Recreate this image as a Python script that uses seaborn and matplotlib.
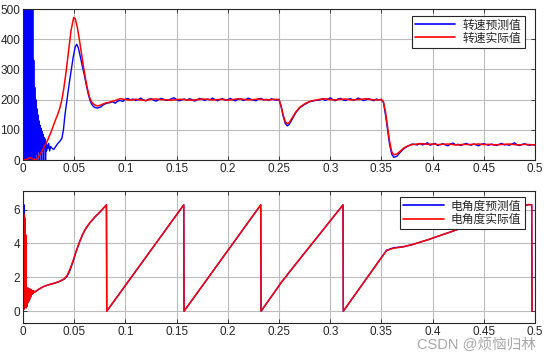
import numpy as np
import pandas as pd
import seaborn as sns
import matplotlib.pyplot as plt

# ---- speed (top panel) ----
# predicted speed, early oscillation: values every 0.0005 s from 0 to 0.024
spd_pred_osc = [0, 600, 0, 600, 20, 600, 0, 600, 0, 600, 10, 600, 0, 600, 0, 600, 0, 580, 0,
                520, 0, 330, 10, 240, 0, 200, 20, 170, 0, 150, 30, 130, 0, 115, 20, 105, 0,
                95, 30, 85, 0, 75, 40, 70, 0, 55, 30, 50, 40]
t_pred_rise = [0.0245, 0.025, 0.026, 0.027, 0.028, 0.030, 0.032, 0.034, 0.036, 0.038, 0.0395,
               0.041, 0.043, 0.045, 0.047, 0.049, 0.051, 0.0525, 0.054, 0.056, 0.058, 0.060,
               0.062, 0.064, 0.066, 0.068, 0.070, 0.073, 0.076, 0.079, 0.082]
spd_pred_rise = [40, 55, 30, 45, 40, 35, 45, 55, 62, 72, 100, 150, 200, 250, 295, 340, 375, 383,
                 372, 342, 310, 280, 245, 215, 192, 180, 174, 172, 176, 184, 188]
# 0.085 .. 0.25
spd_pred_flat1 = [190, 193, 188, 195, 197, 194, 201, 204, 199, 202, 197, 200, 205, 199, 196, 201,
                  203, 198, 195, 200, 204, 201, 197, 199, 203, 206, 200, 196, 199, 202, 198, 203,
                  200, 195, 199, 204, 201, 197, 202, 199, 205, 200, 196, 201, 203, 198, 200, 204,
                  199, 196, 201, 203, 197, 200, 205, 201, 198, 196, 202, 204, 199, 201, 197, 203,
                  200, 198, 201]
t_pred_dip = [0.252, 0.254, 0.256, 0.258, 0.260, 0.263, 0.266, 0.270, 0.275, 0.280, 0.285]
spd_pred_dip = [178, 146, 122, 113, 118, 136, 155, 172, 184, 193, 197]
# 0.29 .. 0.35
spd_pred_flat2 = [199, 203, 197, 201, 206, 200, 196, 202, 204, 199, 197, 201, 203, 198, 200, 205,
                  201, 197, 199, 203, 200, 196, 202, 199, 201]
t_pred_drop = [0.352, 0.354, 0.356, 0.358, 0.360, 0.362, 0.365, 0.368, 0.372, 0.376, 0.380, 0.385]
spd_pred_drop = [190, 150, 100, 52, 20, 9, 12, 24, 38, 46, 53, 50]
# 0.3875 .. 0.5
spd_pred_flat3 = [55, 50, 53, 57, 49, 52, 55, 48, 51, 54, 50, 47, 53, 56, 50, 52, 48, 51, 55, 52,
                  49, 53, 50, 47, 52, 54, 51, 49, 53, 50, 48, 52, 55, 50, 51, 49, 53, 57, 50, 48,
                  52, 54, 50, 49, 51, 50]

t_act_rise = [0, 0.004, 0.007, 0.010, 0.013, 0.016, 0.020, 0.024, 0.028, 0.032, 0.034, 0.036,
              0.038, 0.040, 0.042, 0.045, 0.047, 0.0495, 0.051, 0.053, 0.055, 0.057, 0.059,
              0.061, 0.063, 0.065, 0.067, 0.070, 0.073, 0.076, 0.080, 0.085, 0.090, 0.095]
spd_act_rise = [0, 3, 8, 2, 0, 15, 38, 65, 98, 135, 152, 172, 200, 240, 290, 375, 430, 472, 468,
                440, 400, 355, 310, 270, 235, 208, 192, 182, 179, 182, 188, 192, 197, 203]
# 0.10 .. 0.25
spd_act_flat1 = [200, 198, 201, 199, 197, 201, 202, 200, 199, 198, 200, 201, 199, 198, 200, 202,
                 201, 199, 200, 201, 198, 200, 203, 201, 199, 200, 202, 200, 199, 201, 200]
t_act_dip = [0.252, 0.254, 0.256, 0.258, 0.260, 0.263, 0.266, 0.270, 0.275, 0.280, 0.285, 0.290]
spd_act_dip = [180, 150, 128, 120, 124, 140, 157, 174, 186, 194, 198, 201]
# 0.295 .. 0.35
spd_act_flat2 = [203, 200, 199, 201, 202, 199, 200, 201, 203, 200, 199, 200]
t_act_drop = [0.352, 0.354, 0.356, 0.358, 0.360, 0.362, 0.365, 0.368, 0.372, 0.376, 0.380, 0.385]
spd_act_drop = [193, 160, 110, 62, 28, 17, 20, 28, 40, 47, 51, 53]
# 0.39 .. 0.5
spd_act_flat3 = [54, 52, 53, 51, 52, 53, 51, 50, 52, 51, 52, 53, 51, 52, 50, 51, 52, 53, 51, 50,
                 52, 51, 50]

# ---- electrical angle (bottom panel) ----
# start oscillation, values every 0.0004 s from 0 to 0.012
ang_act_osc = [0, 5.8, 0.1, 5.7, 0.2, 5.5, 0.3, 4.5, 0.2, 1.4, 0.3, 1.3, 0.5, 1.35, 0.6, 1.3, 0.7,
               1.3, 0.8, 1.25, 0.9, 1.25, 1.0, 1.2, 1.05, 1.2, 1.1, 1.18, 1.12, 1.15, 1.15]
ang_pred_osc = [0, 6.3, 6.3, 6.25, 4.6, 1.5, 0.3, 4.5, 0.2, 1.4, 0.3, 1.3, 0.5, 1.35, 0.6, 1.3, 0.7,
                1.3, 0.8, 1.25, 0.9, 1.25, 1.0, 1.2, 1.05, 1.2, 1.1, 1.18, 1.12, 1.15, 1.15]
t_ang = [0.015, 0.020, 0.025, 0.030, 0.035, 0.040, 0.043, 0.046, 0.049, 0.052, 0.055, 0.058,
         0.061, 0.065, 0.070, 0.075, 0.0815, 0.0818,
         0.157, 0.1573,
         0.2322, 0.2325, 0.250, 0.2526, 0.256, 0.260, 0.3125, 0.3128,
         0.355, 0.362, 0.371, 0.380, 0.388, 0.396, 0.404, 0.417, 0.430, 0.445, 0.460, 0.475,
         0.487, 0.4935, 0.4968, 0.4971]
ang_act = [1.28, 1.45, 1.56, 1.64, 1.74, 1.90, 2.10, 2.50, 3.00, 3.55, 4.05, 4.50,
           4.85, 5.20, 5.55, 5.85, 6.28, 0,
           6.28, 0,
           6.28, 0, 1.50, 1.73, 1.98, 2.30, 6.28, 0,
           3.58, 3.72, 3.80, 3.93, 4.08, 4.23, 4.40, 4.67, 4.95, 5.27, 5.60, 5.92,
           6.18, 6.30, 6.28, 0]
ang_pred = [1.28, 1.45, 1.56, 1.64, 1.74, 1.88, 2.05, 2.42, 2.95, 3.55, 4.05, 4.50,
            4.85, 5.20, 5.55, 5.85, 6.28, 0,
            6.28, 0,
            6.28, 0, 1.50, 1.73, 1.98, 2.30, 6.28, 0,
            3.60, 3.75, 3.80, 3.93, 4.08, 4.23, 4.40, 4.67, 4.95, 5.27, 5.60, 5.92,
            6.18, 6.30, 6.28, 0]

x_ticks = [0, 0.05, 0.1, 0.15, 0.2, 0.25, 0.3, 0.35, 0.4, 0.45, 0.5]
x_labels = ["0", "0.05", "0.1", "0.15", "0.2", "0.25", "0.3", "0.35", "0.4", "0.45", "0.5"]

# assemble series
t_sp = np.concatenate([np.linspace(0, 0.024, len(spd_pred_osc)), t_pred_rise,
                       np.linspace(0.085, 0.25, len(spd_pred_flat1)), t_pred_dip,
                       np.linspace(0.29, 0.35, len(spd_pred_flat2)), t_pred_drop,
                       np.linspace(0.3875, 0.5, len(spd_pred_flat3))])
v_sp = np.concatenate([spd_pred_osc, spd_pred_rise, spd_pred_flat1, spd_pred_dip,
                       spd_pred_flat2, spd_pred_drop, spd_pred_flat3])
t_sa = np.concatenate([t_act_rise, np.linspace(0.10, 0.25, len(spd_act_flat1)), t_act_dip,
                       np.linspace(0.295, 0.35, len(spd_act_flat2)), t_act_drop,
                       np.linspace(0.39, 0.5, len(spd_act_flat3))])
v_sa = np.concatenate([spd_act_rise, spd_act_flat1, spd_act_dip, spd_act_flat2,
                       spd_act_drop, spd_act_flat3])
t_osc = np.linspace(0, 0.012, len(ang_act_osc))
t_ap = np.concatenate([t_osc, t_ang])
v_ap = np.concatenate([ang_pred_osc, ang_pred])
v_aa = np.concatenate([ang_act_osc, ang_act])

df_sp = pd.DataFrame({"t": t_sp, "v": v_sp})
df_sa = pd.DataFrame({"t": t_sa, "v": v_sa})
df_ap = pd.DataFrame({"t": t_ap, "v": v_ap})
df_aa = pd.DataFrame({"t": t_ap, "v": v_aa})

sns.set_style("whitegrid")
plt.rcParams['font.family'] = ['Liberation Sans', 'Noto Sans CJK SC', 'DejaVu Sans']
plt.rcParams['axes.unicode_minus'] = False

fig = plt.figure(figsize=(5.54, 3.63), dpi=100)
ax1 = fig.add_axes([0.0415, 0.5592, 0.9242, 0.416])
ax2 = fig.add_axes([0.0415, 0.1102, 0.9242, 0.3636])

blue = "#0000ff"
red = "#ff0000"

sns.lineplot(data=df_sp, x="t", y="v", ax=ax1, color=blue, lw=1.0, estimator=None, sort=False,
             label="转速预测值")
sns.lineplot(data=df_sa, x="t", y="v", ax=ax1, color=red, lw=1.1, estimator=None, sort=False,
             label="转速实际值")
sns.lineplot(data=df_ap, x="t", y="v", ax=ax2, color=blue, lw=1.0, estimator=None, sort=False,
             label="电角度预测值")
sns.lineplot(data=df_aa, x="t", y="v", ax=ax2, color=red, lw=1.1, estimator=None, sort=False,
             label="电角度实际值")

ax1.set_ylim(0, 500)
ax1.set_yticks([0, 100, 200, 300, 400, 500])
ax2.set_ylim(-0.7, 7.1)
ax2.set_yticks([0, 2, 4, 6])

for ax in (ax1, ax2):
    ax.set_xlim(0, 0.5)
    ax.set_xticks(x_ticks)
    ax.set_xticklabels(x_labels)
    ax.set_xlabel("")
    ax.set_ylabel("")
    ax.grid(True, color="#bcbcbc", lw=0.8)
    for s in ax.spines.values():
        s.set_color("#262626")
        s.set_linewidth(0.8)
        s.set_visible(True)
    ax.tick_params(direction="in", length=3, width=0.6, color="#262626", labelsize=8.5,
                   labelcolor="#262626", top=True, right=True, bottom=True, left=True, pad=2)
    leg = ax.legend(loc="upper right", bbox_to_anchor=(0.98, 0.955), fontsize=8.5,
                    fancybox=False, framealpha=1, edgecolor="#262626", handlelength=3.4,
                    borderpad=0.3, labelspacing=0.1, handletextpad=0.6, borderaxespad=0)
    leg.get_frame().set_linewidth(0.8)
    for line in leg.get_lines():
        line.set_linewidth(1.2)

fig.text(0.968, 0.03, "CSDN @烦恼归林", ha="right", va="bottom", fontsize=10.5, color="#a8a8a8")

fig.savefig("out.png", dpi=100)
